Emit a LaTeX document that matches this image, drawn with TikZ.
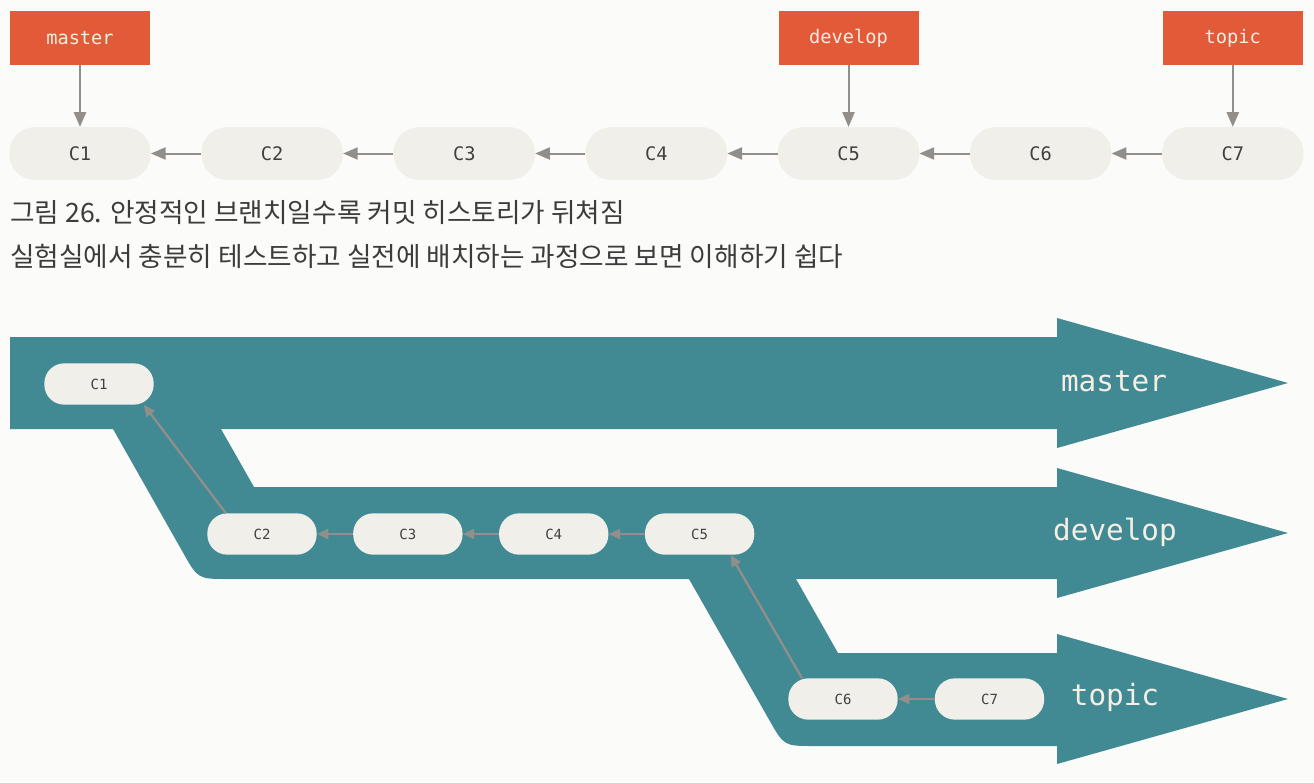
\documentclass[tikz,border=0pt]{standalone}
\usepackage{fontspec}
\setmonofont{DejaVu Sans Mono}
\newfontfamily\krfont{Noto Sans CJK KR}
\usetikzlibrary{arrows.meta,positioning}
\definecolor{BranchRed}{RGB}{227,90,56}
\definecolor{CommitGray}{RGB}{240,239,234}
\definecolor{LinkGray}{RGB}{146,143,138}
\definecolor{StreamTeal}{RGB}{65,138,147}
\definecolor{PaperWhite}{RGB}{251,251,249}
\definecolor{CaptionGray}{RGB}{60,60,60}
\definecolor{LabelCream}{RGB}{245,238,228}
\tikzset{
  commit/.style={rectangle,rounded corners=19pt,fill=CommitGray,
    minimum width=106pt,minimum height=39.5pt,
    font=\ttfamily\fontsize{14}{14}\selectfont,text=black!75},
  smallcommit/.style={rectangle,rounded corners=15pt,fill=CommitGray,
    minimum width=82pt,minimum height=31pt,
    font=\ttfamily\fontsize{10.5}{11}\selectfont,text=black!75},
  branchtag/.style={rectangle,fill=BranchRed,minimum width=105pt,
    minimum height=40pt,font=\ttfamily\fontsize{14}{14}\selectfont,
    text=LabelCream},
  parentarrow/.style={-{Triangle[length=11pt,width=9pt]},
    line width=1.5pt,draw=LinkGray},
  smallarrow/.style={-{Triangle[length=8.5pt,width=7.5pt]},
    line width=1.7pt,draw=LinkGray},
  streamlabel/.style={font=\ttfamily\fontsize{22}{22}\selectfont,
    text=LabelCream},
  captionline/.style={anchor=west,inner sep=0pt,
    font=\krfont\fontsize{20}{20}\selectfont,text=CaptionGray},
}

\begin{document}
\begin{tikzpicture}[x=0.75pt,y=-0.75pt]
  \fill[PaperWhite] (0,0) rectangle (1314,782);
  \useasboundingbox (0,0) rectangle (1314,782);

  % linear history
  \node[commit] (c1) at (80,153.5) {C1};
  \node[commit,right=37.7pt of c1] (c2) {C2};
  \node[commit,right=37.7pt of c2] (c3) {C3};
  \node[commit,right=37.7pt of c3] (c4) {C4};
  \node[commit,right=37.7pt of c4] (c5) {C5};
  \node[commit,right=37.7pt of c5] (c6) {C6};
  \node[commit,right=37.7pt of c6] (c7) {C7};
  \node[branchtag,above=46.5pt of c1] (master) {master};
  \node[branchtag,above=46.5pt of c5] (develop) {develop};
  \node[branchtag,above=46.5pt of c7] (topic) {topic};
  \foreach \a/\b in {c2/c1,c3/c2,c4/c3,c5/c4,c6/c5,c7/c6}
    \draw[parentarrow] (\a) -- (\b);
  \foreach \t/\c in {master/c1,develop/c5,topic/c7}
    \draw[parentarrow] (\t) -- (\c);

  \node[captionline] (cap1) at (10,213) {그림 26. 안정적인 브랜치일수록 커밋 히스토리가 뒤쳐짐};
  \node[captionline] (cap2) at (10,256) {실험실에서 충분히 테스트하고 실전에 배치하는 과정으로 보면 이해하기 쉽다};

  % streams
  \fill[StreamTeal] (10,337) -- (1057,337) -- (1057,318) -- (1288,383)
    -- (1057,448) -- (1057,429) -- (10,429) -- cycle;
  \fill[StreamTeal] (113,429) -- (221,429) -- (254,487) -- (1057,487)
    -- (1057,468) -- (1288,533) -- (1057,598) -- (1057,579) -- (228,579)
    .. controls (198,579) .. (183.2,552.9) -- cycle;
  \fill[StreamTeal] (689,579) -- (796,579) -- (838,653) -- (1057,653)
    -- (1057,634) -- (1288,699) -- (1057,764) -- (1057,746) -- (814,746)
    .. controls (784,746) .. (769.2,719.9) -- cycle;

  \node[streamlabel] (smaster) at (1114,381) {master};
  \node[streamlabel] (sdevelop) at (1115,532) {develop};
  \node[streamlabel] (stopic) at (1115,697) {topic};

  \node[smallcommit] (b1) at (99,384) {C1};
  \node[smallcommit] (b2) at (262,534) {C2};
  \node[smallcommit,right=27pt of b2] (b3) {C3};
  \node[smallcommit,right=27pt of b3] (b4) {C4};
  \node[smallcommit,right=27pt of b4] (b5) {C5};
  \node[smallcommit] (b6) at (843,699) {C6};
  \node[smallcommit,right=27.5pt of b6] (b7) {C7};
  \draw[smallarrow] (b2.150) -- (b1.-25);
  \draw[smallarrow] (b6.153) -- (b5.-34);
  \foreach \a/\b in {b3/b2,b4/b3,b5/b4,b7/b6}
    \draw[smallarrow] (\a) -- (\b);
\end{tikzpicture}
\end{document}
